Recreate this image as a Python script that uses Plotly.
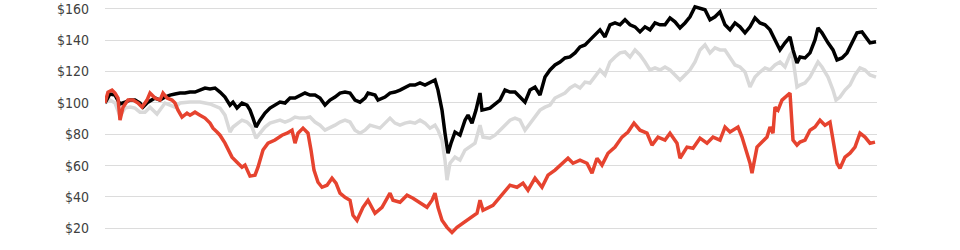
import plotly.graph_objects as go

# x = trading-period index, y = value of $100 invested
black_x = [0,5,10,15,20,25,30,35,38,43,50,55,60,65,70,75,80,85,90,95,100,105,110,115,120,125,128,132,137,142,145,148,151,155,160,165,170,175,180,185,190,195,200,205,210,215,220,225,230,235,240,245,250,255,260,263,270,273,280,285,290,295,300,305,310,315,320,325,330,333,337,340,343,346,350,355,360,363,367,371,375,377,385,395,400,405,410,415,420,425,430,435,440,445,450,455,460,465,470,475,480,485,490,495,500,505,510,515,520,525,530,535,540,545,550,555,560,565,570,575,580,585,590,595,600,605,610,615,620,625,630,635,640,645,650,655,660,665,670,675,680,685,688,692,695,700,705,710,713,717,723,728,732,737,742,747,752,757,761,765,771]
black_y = [100,105.7,105.0,99.3,100.5,101.8,101.8,99.9,97.3,100.5,103.1,101.8,103.7,105.0,105.7,106.3,106.3,106.9,106.9,108.2,109.5,108.9,109.5,106.9,103.7,98.6,100.5,96.7,99.9,98.6,95.4,90.3,84.6,89.0,93.5,96.7,98.6,100.5,99.9,103.1,103.1,105.0,106.3,105.0,105.0,103.1,98.6,101.8,103.7,106.3,106.9,106.3,101.8,100.5,103.1,106.3,105.0,101.8,103.7,106.3,106.9,108.2,110.1,111.4,111.4,112.7,111.4,113.3,114.6,108.2,95.4,80.7,67.9,74.3,81.4,79.4,89.0,92.2,87.1,95.4,106.3,95.4,96.7,101.8,108.2,106.9,106.9,103.7,100.5,108.2,110.1,105.0,116.5,121.0,124.2,126.1,128.7,129.3,131.9,135.7,137.0,140.2,143.4,146.6,142.1,149.8,151.0,149.8,153.0,149.8,148.5,145.3,148.5,146.6,151.0,149.8,149.8,154.2,151.7,147.9,151.0,154.9,161.3,160.6,159.4,153.0,154.9,158.1,149.8,146.6,151.0,148.5,144.7,148.5,154.2,151.0,149.8,146.6,140.2,133.8,138.3,142.1,133.8,125.5,129.3,128.7,131.9,140.2,147.9,144.7,138.3,133.8,127.4,128.7,131.9,138.3,144.7,145.3,142.1,138.3,139.0]

gray_x = [0,5,10,15,20,25,30,35,40,45,52,60,65,70,75,85,95,105,115,120,125,128,133,137,142,147,151,155,160,165,170,175,180,185,190,195,200,205,210,215,220,225,230,235,240,245,250,255,260,265,270,275,280,285,290,295,300,305,310,315,320,325,330,333,337,340,342,345,350,355,360,365,370,375,378,385,390,395,400,405,410,415,420,425,430,435,440,445,450,455,460,465,470,475,480,485,490,495,500,505,510,515,520,525,530,535,540,545,550,555,560,565,570,575,580,585,590,595,600,605,610,615,620,625,630,635,640,645,650,655,660,665,670,675,680,685,687,690,692,695,700,705,710,713,717,723,728,731,735,740,745,750,755,760,765,771]
gray_y = [100,101.8,99.9,91.6,96.7,97.3,96.7,94.1,94.1,97.3,92.9,99.9,98.6,97.3,99.9,100.5,100.5,99.3,96.7,92.2,81.4,84.6,87.1,89.0,87.8,84.6,77.5,80.7,84.6,87.1,87.8,89.0,87.8,89.0,91.0,90.3,90.3,91.0,87.8,85.8,82.6,83.9,85.8,87.8,89.0,87.8,82.6,80.7,82.6,85.8,84.6,83.9,87.1,90.3,87.1,85.8,87.1,87.8,87.1,89.0,87.1,83.9,85.8,82.6,76.3,63.5,50.7,61.5,65.4,63.5,69.9,71.8,74.3,85.8,78.2,77.5,79.4,82.6,85.8,89.0,90.3,89.0,82.6,87.1,91.0,95.4,97.3,98.6,103.1,105.0,106.3,109.5,111.4,109.5,113.3,112.7,116.5,121.0,117.8,126.1,129.3,131.9,132.5,129.3,133.8,130.6,126.1,121.0,122.3,121.0,122.9,121.0,117.8,114.6,117.8,121.0,126.1,133.8,137.0,131.9,135.1,133.8,133.8,128.7,124.2,122.9,119.7,110.1,116.5,119.7,122.3,121.0,124.2,126.1,122.9,130.6,132.5,119.1,110.1,111.4,112.7,116.5,122.3,126.1,122.9,116.5,108.2,101.8,103.7,108.2,111.4,117.8,122.3,121.0,117.8,116.5]

red_x = [0,3,7,10,13,15,18,23,28,33,37,42,45,50,55,58,62,67,70,73,77,82,85,90,95,100,105,108,112,115,120,123,127,132,137,140,145,150,153,158,163,170,177,182,187,190,193,198,203,206,209,213,217,222,227,231,235,240,245,248,252,258,263,270,277,285,288,295,302,308,315,322,327,330,333,337,342,347,352,358,365,372,375,378,388,398,405,412,418,423,430,437,443,450,457,463,468,475,482,487,492,497,503,510,517,523,529,535,542,547,553,560,565,572,575,582,588,595,602,608,615,620,625,633,637,640,645,647,652,657,662,665,668,670,673,677,682,685,688,692,695,700,705,710,715,720,725,728,732,735,740,745,750,755,760,765,770]
red_y = [100,106.9,108.2,106.3,103.1,89.0,97.3,101.8,101.8,99.9,97.3,101.8,106.3,103.1,101.8,106.3,103.1,101.8,99.9,95.4,91.0,93.5,92.2,94.1,92.2,90.3,87.1,83.9,81.4,79.4,74.3,69.9,65.4,62.2,59.0,60.3,53.3,53.9,59.0,69.9,74.3,76.3,79.4,80.7,82.6,74.3,80.7,83.9,80.7,69.9,57.1,49.4,46.2,47.5,52.0,48.8,42.4,39.8,37.9,28.3,25.1,33.4,37.9,29.6,33.4,42.4,37.9,36.6,41.1,39.2,36.6,33.4,37.9,42.4,33.4,25.1,20.6,17.4,20.6,23.2,26.4,29.6,37.9,31.5,34.7,42.4,47.5,46.2,48.8,44.3,52.0,46.2,53.9,57.1,61.5,64.7,61.5,63.5,61.5,55.2,64.7,60.3,67.9,71.8,78.2,81.4,87.1,82.6,80.7,73.1,78.2,76.3,80.7,74.3,64.7,71.8,71.1,77.5,74.3,78.2,76.3,84.6,81.4,84.6,78.2,71.8,61.5,55.2,71.8,75.0,78.2,84.6,80.7,97.3,95.4,101.8,105.0,106.3,76.3,73.1,75.0,76.3,82.6,84.6,89.0,85.8,87.8,76.3,61.5,58.3,65.4,67.9,71.8,80.7,78.2,74.3,75.0]

tick_vals = [20, 40, 60, 80, 100, 120, 140, 160]
tick_text = ["$20", "$40", "$60", "$80", "$100", "$120", "$140", "$160"]

fig = go.Figure()
fig.add_trace(go.Scatter(x=gray_x, y=gray_y, mode="lines",
                         line=dict(color="#d9d9d9", width=3.5), showlegend=False))
fig.add_trace(go.Scatter(x=black_x, y=black_y, mode="lines",
                         line=dict(color="#000000", width=3.5), showlegend=False))
fig.add_trace(go.Scatter(x=red_x, y=red_y, mode="lines",
                         line=dict(color="#e6432f", width=3.5), showlegend=False))

fig.update_layout(
    width=960, height=250,
    margin=dict(l=105, r=83, t=1, b=6),
    paper_bgcolor="white", plot_bgcolor="white",
    font=dict(family="Liberation Sans Narrow, DejaVu Sans Condensed, Arial Narrow, Liberation Sans, sans-serif",
              size=14, color="#404040"),
    xaxis=dict(range=[0, 772], showgrid=False, showticklabels=False,
               zeroline=False, showline=False, ticks=""),
    yaxis=dict(range=[10, 165], tickvals=tick_vals, ticktext=tick_text,
               showgrid=True, gridcolor="#dcdcdc", gridwidth=1,
               zeroline=False, showline=False, ticks="", ticklabelstandoff=15),
)

fig.write_html("out.html")
